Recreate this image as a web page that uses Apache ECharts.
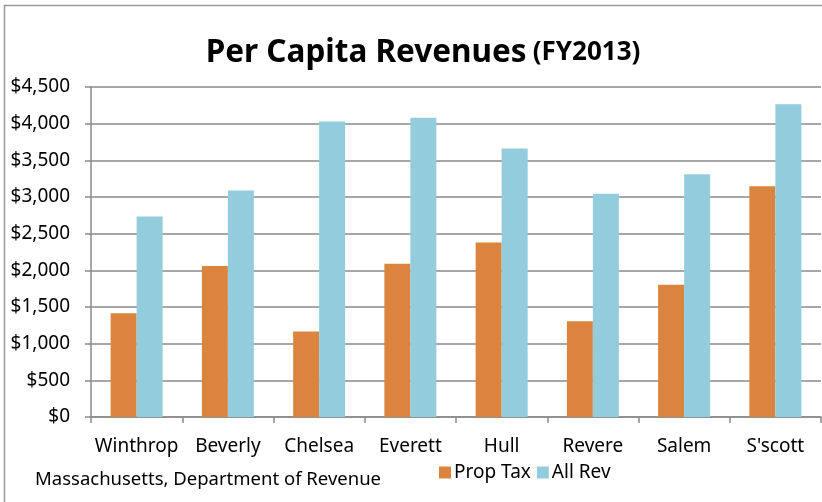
<!DOCTYPE html>
<html>
<head>
<meta charset="utf-8">
<script src="https://cdn.jsdelivr.net/npm/echarts@6/dist/echarts.min.js"></script>
<style>
  html, body { margin: 0; padding: 0; background: #fff; }
  #chart { width: 822px; height: 502px; }
</style>
</head>
<body>
<div id="chart"></div>
<script>
// towns and per capita revenue (FY2013)
const towns = ['Winthrop', 'Beverly', 'Chelsea', 'Everett', 'Hull', 'Revere', 'Salem', "S'scott"]
const propTax = [1415, 2060, 1165, 2090, 2380, 1305, 1805, 3145]
const allRev = [2735, 3090, 4030, 4080, 3660, 3045, 3310, 4265]

const font = '"Noto Sans", sans-serif'
const gray = '#8a8a8a'

const chart = echarts.init(document.getElementById('chart'))

chart.setOption({
  animation: false,
  textStyle: { fontFamily: font },
  title: {
    text: '{a|Per Capita Revenues}{b|(FY2013)}',
    left: 418,
    textAlign: 'center',
    top: 32,
    textStyle: {
      rich: {
        a: { fontSize: 31.5, fontWeight: 'bold', color: '#000', fontFamily: font },
        b: { fontSize: 26, fontWeight: 'bold', color: '#000', fontFamily: font, padding: [0, 0, 0, 6] }
      }
    }
  },
  legend: {
    data: ['Prop Tax', 'All Rev'],
    left: 434,
    top: 458,
    icon: 'rect',
    itemWidth: 12,
    itemHeight: 12,
    itemGap: 6,
    textStyle: { fontSize: 19, color: '#000', padding: [0, 0, 0, -2] }
  },
  grid: {
    left: 91,
    right: 1,
    top: 87,
    bottom: 85
  },
  xAxis: {
    type: 'category',
    data: towns,
    axisLine: { lineStyle: { color: gray, width: 1.5 } },
    axisTick: { show: true, length: 6, lineStyle: { color: gray, width: 1.5 } },
    axisLabel: { fontSize: 19, color: '#000', margin: 20, interval: 0 }
  },
  yAxis: {
    type: 'value',
    min: 0,
    max: 4500,
    interval: 500,
    axisLine: { show: true, lineStyle: { color: gray, width: 1.5 } },
    axisTick: { show: true, length: 6, lineStyle: { color: gray, width: 1.5 } },
    axisLabel: {
      fontSize: 19,
      color: '#000',
      margin: 21,
      formatter: v => '$' + v.toLocaleString('en-US')
    },
    splitLine: { lineStyle: { color: gray, width: 1.5 } }
  },
  series: [{
    name: 'Prop Tax',
    type: 'bar',
    data: propTax,
    barGap: '0%',
    barCategoryGap: '43%',
    itemStyle: { color: '#DB843D' }
  }, {
    name: 'All Rev',
    type: 'bar',
    data: allRev,
    itemStyle: { color: '#93CDDD' }
  }],
  graphic: [{
    type: 'rect',
    shape: { x: 4.5, y: 5.5, width: 900, height: 600 },
    style: { fill: 'none', stroke: '#9a9a9a', lineWidth: 1.5 },
    silent: true
  }, {
    type: 'text',
    left: 35,
    top: 470,
    style: { text: 'Massachusetts, Department of Revenue', fontSize: 18.5, fill: '#000', fontFamily: font }
  }]
})
</script>
</body>
</html>
